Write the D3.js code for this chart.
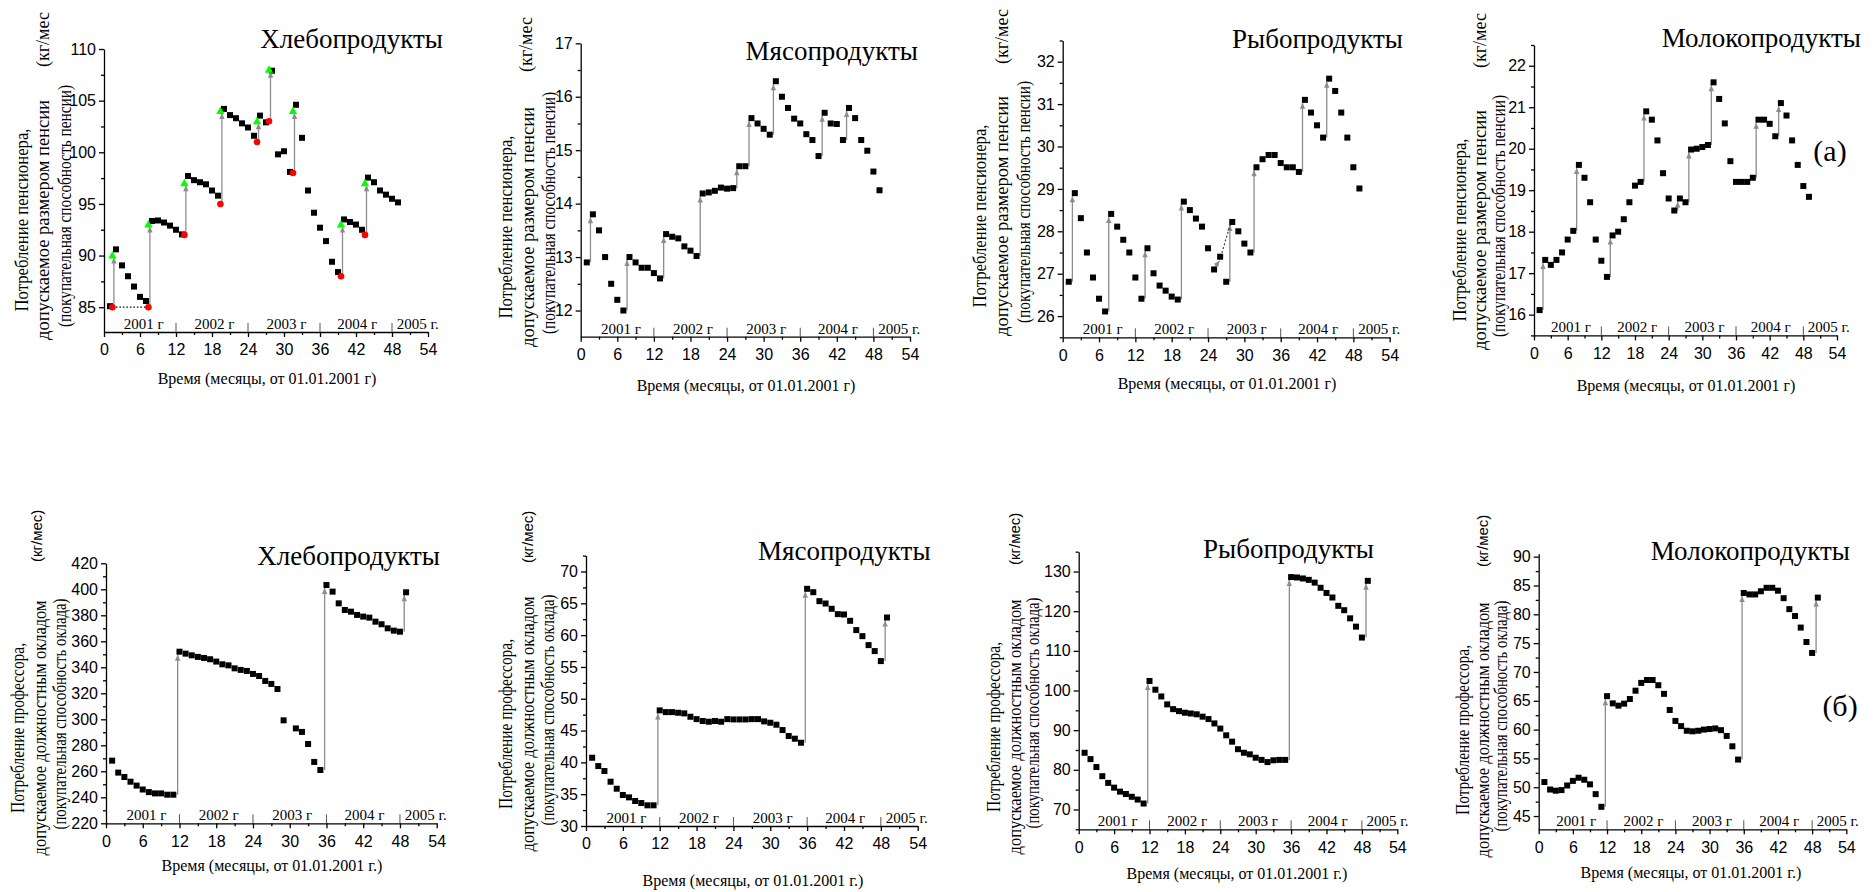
<!DOCTYPE html>
<html>
<head>
<meta charset="utf-8">
<script src="https://cdn.jsdelivr.net/npm/d3@7"></script>
<style>
  body { margin: 0; background: #fff; }
  svg { display: block; }
</style>
</head>
<body>
<svg id="chart" width="1874" height="892"></svg>
<script>
// months since 01.01.2001
const months = d3.range(1, 50);
const xTicks = d3.range(0, 55, 6);
const xMinor = d3.range(3, 54, 6);
const yearLabels = ['2001 г', '2002 г', '2003 г', '2004 г', '2005 г.'];
const yearAt = [6.6, 18.4, 30.4, 42.2, 48.8];
const yearDividers = [12, 24, 36, 48];

// (a) pensioner, kg per month
const pensBread = [85.1, 90.6, 89.05, 88.0, 87.0, 86.0, 85.6, 93.35, 93.4, 93.2, 92.9, 92.5, 92.05,
  97.7, 97.3, 97.1, 96.9, 96.3, 95.8, 104.2, 103.6, 103.3, 102.8, 102.4, 101.6, 103.55, 102.9,
  107.9, 99.8, 100.1, 98.1, 104.6, 101.4, 96.3, 94.15, 92.7, 91.4, 89.4, 88.4, 93.5, 93.25,
  93.0, 92.5, 97.55, 97.1, 96.3, 95.9, 95.5, 95.15];
const pensMeat = [12.9, 13.8, 13.5, 13.0, 12.5, 12.2, 12.0, 13.0, 12.9, 12.8, 12.8, 12.7, 12.6,
  13.43, 13.38, 13.35, 13.2, 13.12, 13.02, 14.19, 14.21, 14.24, 14.3, 14.28, 14.29, 14.7, 14.7,
  15.6, 15.5, 15.4, 15.29, 16.29, 16.0, 15.79, 15.59, 15.5, 15.3, 15.19, 14.89, 15.7, 15.5,
  15.49, 15.19, 15.79, 15.6, 15.19, 14.99, 14.6, 14.25];
const pensFish = [26.81, 28.9, 28.31, 27.5, 26.91, 26.41, 26.11, 28.41, 28.11, 27.8, 27.5, 26.91,
  26.41, 27.6, 27.01, 26.72, 26.6, 26.46, 26.39, 28.7, 28.5, 28.3, 28.11, 27.6, 27.1, 27.4,
  26.81, 28.22, 28.0, 27.71, 27.5, 29.51, 29.7, 29.8, 29.8, 29.61, 29.51, 29.51, 29.4, 31.1,
  30.8, 30.5, 30.21, 31.6, 31.31, 30.8, 30.21, 29.51, 29.01];
const pensMilk = [16.11, 17.32, 17.2, 17.32, 17.5, 17.81, 18.02, 19.61, 19.3, 18.71, 17.81, 17.3,
  16.91, 17.91, 18.0, 18.3, 18.71, 19.11, 19.2, 20.9, 20.7, 20.2, 19.41, 18.8, 18.51, 18.8,
  18.71, 19.98, 20.0, 20.04, 20.09, 21.6, 21.2, 20.61, 19.7, 19.2, 19.2, 19.2, 19.3, 20.7,
  20.7, 20.6, 20.3, 21.1, 20.8, 20.2, 19.61, 19.1, 18.84];

// bread panel: pension indexation, before (red) and after (green)
const indexAt = [1.4, 7.4, 13.4, 19.4, 25.5, 27.5, 31.5, 39.5, 43.5];
const indexBefore = [85, 85, 92, 95, 101, 103, 98, 88, 92];
const indexAfter = [90, 93, 97, 104, 103, 108, 104, 93, 97];

// months after which the value jumps (arrow to next month)
const pensJumps = [1, 7, 13, 19, 25, 27, 31, 39, 43];
const pensFishJumps = [1, 7, 13, 19, 27, 31, 39, 43];

// (б) professor, kg per month
const profBread = [268.2, 259, 255.6, 252, 249, 246, 244, 243, 243, 242, 242, 352, 350.5, 349.2,
  348, 347.2, 346.2, 344.4, 342.3, 341.5, 339.2, 338, 337.2, 334.9, 333.3, 329.5, 327.2, 323.3,
  299.2, null, 293, 290.3, 281, 267.2, 261, 403.3, 398.2, 389.2, 384.1, 382.8, 380.3, 379,
  378.2, 375.1, 373.1, 370, 368.2, 367.4, 397.7];
const profMeat = [40.73, 39.42, 38.64, 36.96, 35.86, 34.87, 34.5, 33.93, 33.61, 33.25, 33.25,
  48.17, 47.9, 47.9, 47.8, 47.7, 47.17, 46.8, 46.5, 46.39, 46.5, 46.39, 46.8, 46.75, 46.75,
  46.75, 46.8, 46.8, 46.44, 46.23, 45.92, 45.08, 44.14, 43.72, 43.09, 67.28, 66.75, 65.34,
  64.97, 64.14, 63.3, 63.25, 62.25, 60.79, 59.84, 58.43, 57.49, 55.92, 62.77];
const profFish = [84.3, 82.7, 80.7, 78.4, 76.7, 75.5, 74.5, 73.9, 73.2, 72.5, 71.5, 102.4, 100.2,
  98.5, 96.5, 95.3, 94.8, 94.4, 94.2, 94.0, 93.4, 92.8, 91.7, 90.4, 88.7, 87.1, 85.2, 84.3,
  83.9, 83.05, 82.5, 81.95, 82.4, 82.5, 82.5, 128.6, 128.5, 128.25, 127.9, 127.2, 125.9,
  124.6, 123.45, 121.35, 120.25, 118.2, 116.1, 113.35, 127.65];
const profMilk = [50.9, 49.6, 49.4, 49.5, 50.3, 51.1, 51.65, 51.3, 50.5, 48.8, 46.6, 65.8, 64.55,
  64.15, 64.5, 65.3, 66.75, 68.1, 68.6, 68.6, 67.7, 66.2, 63.4, 61.5, 60.6, 59.8, 59.7, 59.8,
  60.0, 60.1, 60.2, 59.9, 58.9, 57.1, 54.8, 83.7, 83.45, 83.45, 84.0, 84.6, 84.6, 84.1, 82.8,
  80.9, 79.7, 77.7, 75.2, 73.3, 82.9];
const profJumps = [11, 35, 48];

const pensLabel = ['Потребление пенсионера,', 'допускаемое размером пенсии', '(покупательная способность пенсии)'];
const profLabel = ['Потребление профессора,', 'допускаемое должностным окладом', '(покупательная способность оклада)'];
const xTitleA = 'Время (месяцы, от 01.01.2001 г)';
const xTitleB = 'Время (месяцы, от 01.01.2001 г.)';

const SERIF = '"Liberation Serif", "Times New Roman", serif';
const SANS = '"Liberation Sans", Arial, sans-serif';
const GRAY = '#8c8c8c';
// measured lengths of the rotated label lines
const pensLabLen = [183, 240, 242];
const profLabLen = [170, 255, 231];

// panel layouts (pixel frames and text spots)
const panels = [
  { title: 'Хлебопродукты', values: pensBread, jumps: [], jOff: 0.6, yDom: [82.6, 110], step: 5,
    x0: 104, x1: 428, yB: 332, yT: 49, tx: 443, ty: 48, ta: 'end',
    lab: pensLabel, labLen: pensLabLen, labX: [22, 43, 65], labC: 220, kg: [43, 67, SERIF, 18], xt: xTitleA, xtx: 267, xty: 384 },
  { title: 'Мясопродукты', values: pensMeat, jumps: pensJumps, jOff: 0.6, yDom: [11.51, 17], step: 1,
    x0: 580.7, x1: 910, yB: 336.7, yT: 43.3, tx: 918, ty: 60, ta: 'end',
    lab: pensLabel, labLen: pensLabLen, labX: [506, 528, 549], labC: 227, kg: [526, 72, SERIF, 18], xt: xTitleA, xtx: 746, xty: 391 },
  { title: 'Рыбопродукты', values: pensFish, jumps: pensFishJumps, jOff: 0.6, yDom: [25.5, 32.5], step: 1,
    x0: 1062.7, x1: 1389.7, yB: 337.3, yT: 40.5, tx: 1232, ty: 48, ta: 'start',
    lab: pensLabel, labLen: pensLabLen, labX: [980, 1002, 1024], labC: 216, kg: [1002, 64, SERIF, 18], xt: xTitleA, xtx: 1227, xty: 389 },
  { title: 'Молокопродукты', values: pensMilk, jumps: pensJumps, jOff: 0.6, yDom: [15.5, 22.5], step: 1,
    x0: 1534, x1: 1837, yB: 335.4, yT: 45, tx: 1861, ty: 47, ta: 'end',
    lab: pensLabel, labLen: pensLabLen, labX: [1460, 1480, 1499], labC: 230, kg: [1480, 68, SERIF, 18], xt: xTitleA, xtx: 1686, xty: 391,
    tag: '(а)', tagX: 1830, tagY: 161 },
  { title: 'Хлебопродукты', values: profBread, jumps: profJumps, jOff: 0.7, yDom: [220, 420], step: 20,
    x0: 106, x1: 436.7, yB: 823.3, yT: 563.3, tx: 440, ty: 565, ta: 'end',
    lab: profLabel, labLen: profLabLen, labX: [18, 40, 60], labC: 728, kg: [37, 562, SANS, 15], xt: xTitleB, xtx: 272, xty: 871 },
  { title: 'Мясопродукты', values: profMeat, jumps: profJumps, jOff: 0.7, yDom: [30, 72.5], step: 5,
    x0: 586, x1: 917.7, yB: 826, yT: 555.6, tx: 758, ty: 560, ta: 'start',
    lab: profLabel, labLen: profLabLen, labX: [506, 528, 548], labC: 724, kg: [528, 563, SANS, 15], xt: xTitleB, xtx: 753, xty: 886 },
  { title: 'Рыбопродукты', values: profFish, jumps: profJumps, jOff: 0.7, yDom: [65, 135], step: 10,
    x0: 1078.7, x1: 1397.3, yB: 829.3, yT: 551.7, tx: 1374, ty: 558, ta: 'end',
    lab: profLabel, labLen: profLabLen, labX: [994, 1015, 1033], labC: 727, kg: [1015, 565, SANS, 15], xt: xTitleB, xtx: 1237, xty: 879 },
  { title: 'Молокопродукты', values: profMilk, jumps: profJumps, jOff: 0.7, yDom: [42.7, 90.5], step: 5,
    x0: 1538.7, x1: 1846.3, yB: 829.3, yT: 553.8, tx: 1850, ty: 560, ta: 'end',
    lab: profLabel, labLen: profLabLen, labX: [1463, 1483, 1501], labC: 730, kg: [1483, 567, SANS, 15], xt: xTitleB, xtx: 1691, xty: 878,
    tag: '(б)', tagX: 1840, tagY: 716 }
];

const svg = d3.select('#chart');

svg.append('defs').append('marker')
  .attr('id', 'ah')
  .attr('viewBox', '0 0 10 10')
  .attr('refX', 10).attr('refY', 5)
  .attr('markerUnits', 'userSpaceOnUse')
  .attr('markerWidth', 7).attr('markerHeight', 6)
  .attr('orient', 'auto')
  .append('path')
  .attr('d', 'M0,0.5 L10,5 L0,9.5 z')
  .attr('fill', GRAY);

function styleAxis(g, size) {
  g.selectAll('path, line').attr('stroke', '#000').attr('stroke-width', 1.3);
  g.selectAll('text').attr('font-family', SANS).attr('font-size', size).attr('fill', '#000');
}

panels.forEach((p, idx) => {
  const g = svg.append('g');
  const x = d3.scaleLinear().domain([0, 54]).range([p.x0, p.x1]);
  const y = d3.scaleLinear().domain(p.yDom).range([p.yB, p.yT]);

  // y axis, major and minor ticks
  const major = d3.range(Math.ceil(p.yDom[0] / p.step) * p.step, p.yDom[1] + 1e-9, p.step);
  const minor = d3.range(major[0] - p.step / 2, p.yDom[1] + 1e-9, p.step)
    .filter(v => v >= p.yDom[0] - 1e-9);

  const gy = g.append('g').attr('transform', `translate(${p.x0},0)`)
    .call(d3.axisLeft(y).tickValues(major).tickSize(5).tickSizeOuter(0).tickPadding(3)
      .tickFormat(d3.format('d')));
  styleAxis(gy, 16);
  const gym = g.append('g').attr('transform', `translate(${p.x0},0)`)
    .call(d3.axisLeft(y).tickValues(minor).tickSize(3).tickFormat(''));
  gym.select('.domain').remove();
  styleAxis(gym, 16);

  // x axis
  const gx = g.append('g').attr('transform', `translate(0,${p.yB})`)
    .call(d3.axisBottom(x).tickValues(xTicks).tickSize(5).tickSizeOuter(0).tickPadding(7));
  styleAxis(gx, 16);
  const gxm = g.append('g').attr('transform', `translate(0,${p.yB})`)
    .call(d3.axisBottom(x).tickValues(xMinor).tickSize(3).tickFormat(''));
  gxm.select('.domain').remove();
  styleAxis(gxm, 16);

  // year dividers and labels
  g.selectAll('.ydiv').data(yearDividers).join('line')
    .attr('x1', d => x(d)).attr('x2', d => x(d))
    .attr('y1', p.yB).attr('y2', p.yB - 9)
    .attr('stroke', '#555').attr('stroke-width', 1);
  g.selectAll('.ylab').data(yearLabels).join('text')
    .attr('x', (d, i) => x(yearAt[i]))
    .attr('y', p.yB - 3)
    .attr('text-anchor', (d, i) => i === 4 ? 'start' : 'middle')
    .attr('font-family', SERIF).attr('font-size', 15)
    .text(d => d);

  const pts = months.map((m, i) => ({ m, v: p.values[i] })).filter(d => d.v != null);

  // jump arrows
  g.selectAll('.jump').data(p.jumps).join('line')
    .attr('x1', d => x(d + p.jOff)).attr('x2', d => x(d + p.jOff))
    .attr('y1', d => y(p.values[d - 1]))
    .attr('y2', d => y(p.values[d]) + 3)
    .attr('stroke', GRAY).attr('stroke-width', 1.3)
    .attr('marker-end', 'url(#ah)');

  if (idx === 2) {
    // short diagonal arrow 25 -> 26 and dotted trend 26 -> 28
    g.append('line')
      .attr('x1', x(25.2)).attr('y1', y(pensFish[24]) - 3)
      .attr('x2', x(25.9)).attr('y2', y(pensFish[25]) + 4)
      .attr('stroke', GRAY).attr('stroke-width', 1.2).attr('marker-end', 'url(#ah)');
    g.append('line')
      .attr('x1', x(26.1)).attr('y1', y(pensFish[25]))
      .attr('x2', x(27.8)).attr('y2', y(pensFish[27]))
      .attr('stroke', '#333').attr('stroke-width', 1.1).attr('stroke-dasharray', '2,2');
  }

  // squares
  g.selectAll('.pt').data(pts).join('rect')
    .attr('x', d => x(d.m) - 3).attr('y', d => y(d.v) - 3)
    .attr('width', 6).attr('height', 6)
    .attr('fill', '#000');

  if (idx === 0) {
    g.append('line')
      .attr('x1', x(indexAt[0])).attr('x2', x(indexAt[1]))
      .attr('y1', y(indexBefore[0])).attr('y2', y(indexBefore[1]))
      .attr('stroke', '#000').attr('stroke-width', 1.2).attr('stroke-dasharray', '1.5,2');
    g.selectAll('.idx').data(indexAt).join('line')
      .attr('x1', (d, i) => x(d) + 1.5).attr('x2', (d, i) => x(d) + 1.5)
      .attr('y1', (d, i) => y(indexBefore[i]))
      .attr('y2', (d, i) => y(indexAfter[i]) + 2)
      .attr('stroke', GRAY).attr('stroke-width', 1.3)
      .attr('marker-end', 'url(#ah)');
    g.selectAll('.before').data(indexAt).join('circle')
      .attr('cx', d => x(d)).attr('cy', (d, i) => y(indexBefore[i]))
      .attr('r', 3.3).attr('fill', '#ff0000');
    g.selectAll('.after').data(indexAt).join('path')
      .attr('transform', (d, i) => `translate(${x(d)},${y(indexAfter[i])})`)
      .attr('d', 'M0,-4.5 L4.2,3 L-4.2,3 Z')
      .attr('fill', '#00ff00');
  }

  // texts
  g.append('text')
    .attr('x', p.tx).attr('y', p.ty)
    .attr('text-anchor', p.ta)
    .attr('font-family', SERIF).attr('font-size', 27)
    .text(p.title);

  p.lab.forEach((line, i) => {
    g.append('text')
      .attr('transform', `translate(${p.labX[i]},${p.labC - (i === 2 ? 14 : 0)}) rotate(-90)`)
      .attr('text-anchor', 'middle').attr('dy', '0.35em')
      .attr('font-family', SERIF).attr('font-size', 18)
      .attr('textLength', p.labLen[i]).attr('lengthAdjust', 'spacingAndGlyphs')
      .text(line);
  });
  g.append('text')
    .attr('transform', `translate(${p.kg[0]},${p.kg[1]}) rotate(-90)`)
    .attr('text-anchor', 'start').attr('dy', '0.35em')
    .attr('font-family', p.kg[2]).attr('font-size', p.kg[3])
    .text(idx < 4 ? '(кг/мес' : '(кг/мес)');

  g.append('text')
    .attr('x', p.xtx).attr('y', p.xty)
    .attr('text-anchor', 'middle')
    .attr('font-family', SERIF).attr('font-size', 16)
    .text(p.xt);

  if (p.tag) {
    g.append('text')
      .attr('x', p.tagX).attr('y', p.tagY)
      .attr('text-anchor', 'middle')
      .attr('font-family', SERIF).attr('font-size', 30)
      .text(p.tag);
  }
});
</script>
</body>
</html>
